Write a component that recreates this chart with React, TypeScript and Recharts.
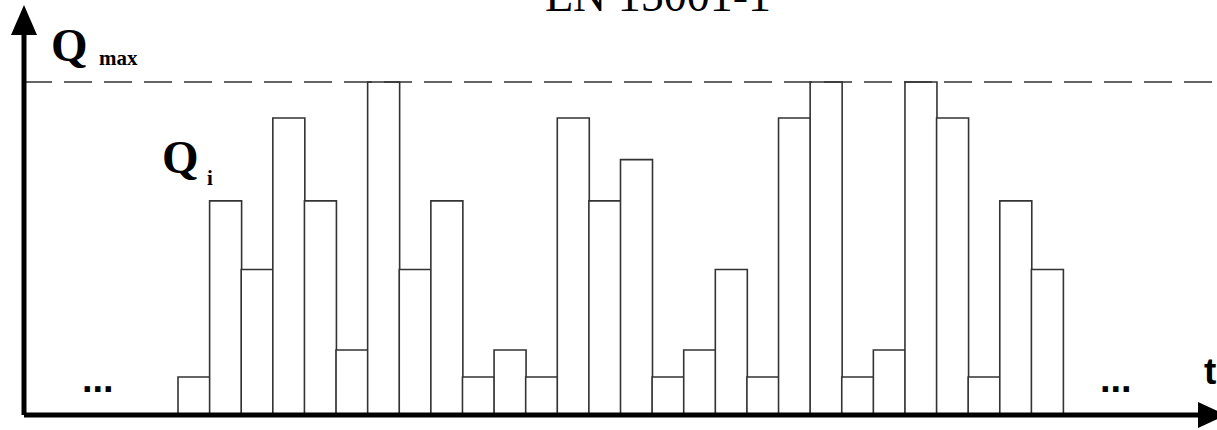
import { BarChart, Bar, XAxis, YAxis, ReferenceLine } from 'recharts';

// time slots along t and the measured flow Q_i per slot (Q_max = 100)
const slots = [
  't1', 't2', 't3', 't4', 't5', 't6', 't7', 't8', 't9', 't10',
  't11', 't12', 't13', 't14', 't15', 't16', 't17', 't18', 't19', 't20',
  't21', 't22', 't23', 't24', 't25', 't26', 't27', 't28',
];
const flows = [
  11.4, 64.3, 43.7, 89.2, 64.3, 19.5, 100, 43.7, 64.3, 11.4,
  19.5, 11.4, 89.2, 64.3, 76.7, 11.4, 19.5, 43.7, 11.4, 89.2,
  100, 11.4, 19.5, 100, 89.2, 11.4, 64.3, 43.7,
];
const qMax = 100;

const title = 'EN 15001-1';

const data = slots.map((slot, i) => ({ slot, q: flows[i] }));

const serif = '"Liberation Serif", "DejaVu Serif", serif';
const sans = '"Liberation Sans", Arial, sans-serif';

export default function App() {
  return (
    <div style={{ position: 'absolute', left: 0, top: 0, width: 1217, height: 430, background: '#fff' }}>
      <BarChart
        width={1217}
        height={430}
        data={data}
        margin={{ top: 30, right: 0, bottom: 0, left: 0 }}
        barCategoryGap={0}
      >
        <XAxis
          dataKey="slot"
          tick={false}
          tickLine={false}
          height={15}
          padding={{ left: 154, right: 154 }}
          axisLine={{ stroke: '#000', strokeWidth: 5 }}
        />
        <YAxis
          width={24}
          domain={[0, qMax]}
          padding={{ top: 52 }}
          tick={false}
          tickLine={false}
          axisLine={{ stroke: '#000', strokeWidth: 5 }}
        />
        <ReferenceLine y={qMax} stroke="#333" strokeWidth={1.5} strokeDasharray="28 12" />
        <Bar dataKey="q" fill="#fff" stroke="#333" strokeWidth={1.6} isAnimationActive={false} />

        {/* arrow heads */}
        <polygon points="24,5 11,35 37,35" fill="#000" />
        <polygon points="1226,415 1198,402 1198,428" fill="#000" />

        <text x={658} y={11} textAnchor="middle" fontFamily={serif} fontSize={46} fill="#000">
          {title}
        </text>
        <text x={51} y={61} fontFamily={serif} fontSize={47} fontWeight="bold" fill="#000">Q</text>
        <text x={99} y={65} fontFamily={serif} fontSize={21} fontWeight="bold" fill="#000">max</text>
        <text x={162} y={173} fontFamily={serif} fontSize={47} fontWeight="bold" fill="#000">Q</text>
        <text x={207} y={185} fontFamily={serif} fontSize={21} fontWeight="bold" fill="#000">i</text>
        <text x={82} y={392} fontFamily={sans} fontSize={38} fontWeight="bold" fill="#000">...</text>
        <text x={1100} y={392} fontFamily={sans} fontSize={38} fontWeight="bold" fill="#000">...</text>
        <text x={1204} y={384} fontFamily={sans} fontSize={37} fontWeight="bold" fill="#000">t</text>
      </BarChart>
    </div>
  );
}
